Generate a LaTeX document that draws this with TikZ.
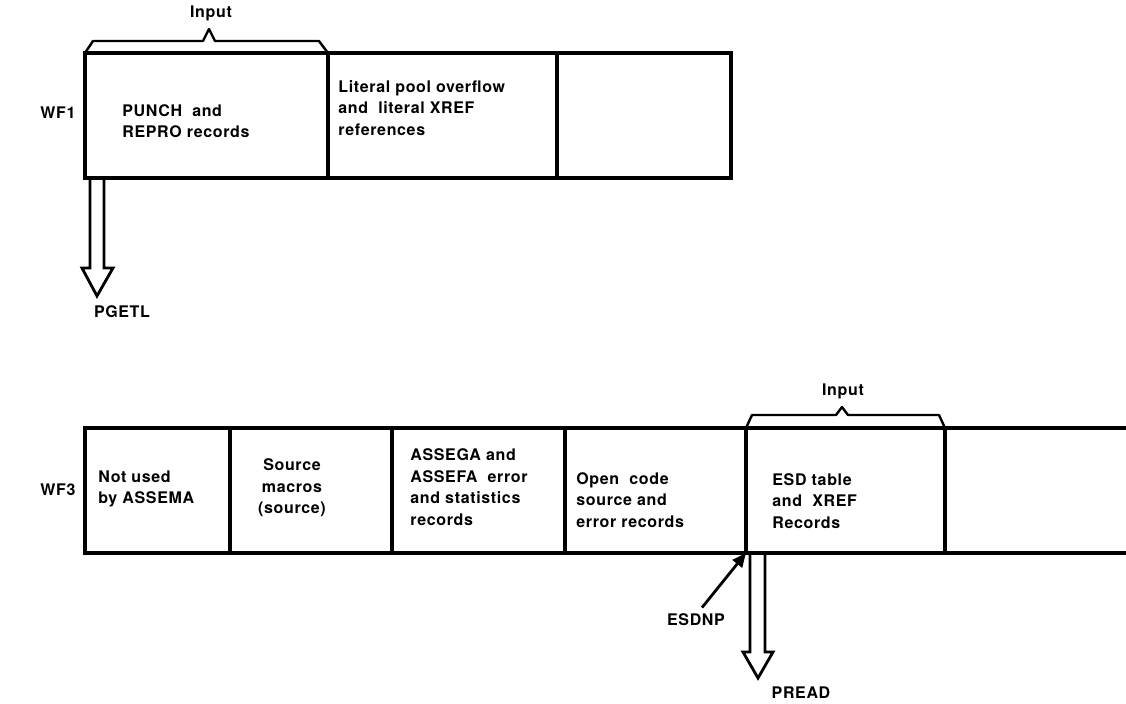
\documentclass[tikz,border=0pt]{standalone}
\usepackage{fontspec}
\setmainfont{TeX Gyre Heros}[LetterSpace=4]
\usetikzlibrary{arrows.meta,fit}

\begin{document}
\begin{tikzpicture}[
    x=0.5pt, y=-0.5pt,
    cell/.style={draw, line width=1.7pt, inner sep=0pt, outer sep=0pt},
    brace/.style={line width=1.2pt, line join=round},
    hollow/.style={line width=1.4pt, line join=miter},
    ptr/.style={line width=1.4pt, -{Triangle[length=7pt, width=6pt]}},
    txt/.style={font=\fontsize{8}{10.8}\selectfont\bfseries, align=left,
                inner sep=0pt, anchor=west},
    lbl/.style={font=\fontsize{8}{10.8}\selectfont\bfseries, align=center,
                inner sep=0pt},
]
\useasboundingbox (0,0) rectangle (1126,703);

% WF1 work file
\node[lbl] (wf1) at (58,113) {WF1};
\foreach \name/\xa/\xb in {punch/85/328, litpool/328/557, wfspare/557/731}{
  \node[cell, fit={(\xa,53) (\xb,178)}] (\name) {};
}
\node[txt] (punchtxt) at (122,121) {PUNCH \ and\\REPRO records};
\node[txt] (littxt) at (338,108) {Literal pool overflow\\and \ literal XREF\\references};

% input bracket over WF1
\node[lbl] (inputa) at (211,13) {Input};
\draw[brace] (punch.north west) -- (93,41) -- (203,41) -- (209,29)
    -- (215,41) -- (319,41) -- (punch.north east);

% PGETL hollow arrow
\node[lbl] (pgetl) at (122,312) {PGETL};
\draw[hollow] ([xshift=2.5pt]punch.south west) -- ++(0,90) -- ++(-8,0)
    -- ++(15,28) -- ++(16,-28) -- ++(-9,0) -- ++(0,-90);

% WF3 work file
\node[lbl] (wf3) at (58,490) {WF3};
\foreach \name/\xa/\xb in {notused/85/230, srcmac/230/392, assega/392/565,
                           opencode/565/746, esd/746/945}{
  \node[cell, fit={(\xa,428) (\xb,553)}] (\name) {};
}
\draw[cell] (esd.north east) -- (1126,428);
\draw[cell] (esd.south east) -- (1126,553);

\node[txt] (notusedtxt) at (98,489) {Not used\\by ASSEMA};
\node[lbl] (srcmactxt) at (292,488) {Source\\macros\\(source)};
\node[txt] (assegatxt) at (410,487) {ASSEGA and\\ASSEFA \ error\\and statistics\\records};
\node[txt] (opentxt) at (576,500) {Open \ code\\source and\\error records};
\node[txt] (esdtxt) at (772,501) {ESD table\\and \ XREF\\Records};

% input bracket over ESD cell
\node[lbl] (inputb) at (843,391) {Input};
\draw[brace] (esd.north west) -- (752,415) -- (836,415) -- (842,407)
    -- (848,415) -- (939,415) -- (esd.north east);

% ESDNP pointer
\node[lbl] (esdnp) at (696,620) {ESDNP};
\draw[ptr] ([xshift=3pt,yshift=3pt]esdnp.north) -- (esd.south west);

% PREAD hollow arrow
\node[lbl] (pread) at (801,693) {PREAD};
\draw[hollow] ([xshift=2pt]esd.south west) -- ++(0,99) -- ++(-7,0)
    -- ++(15,26) -- ++(15,-26) -- ++(-8,0) -- ++(0,-99);

\end{tikzpicture}
\end{document}
